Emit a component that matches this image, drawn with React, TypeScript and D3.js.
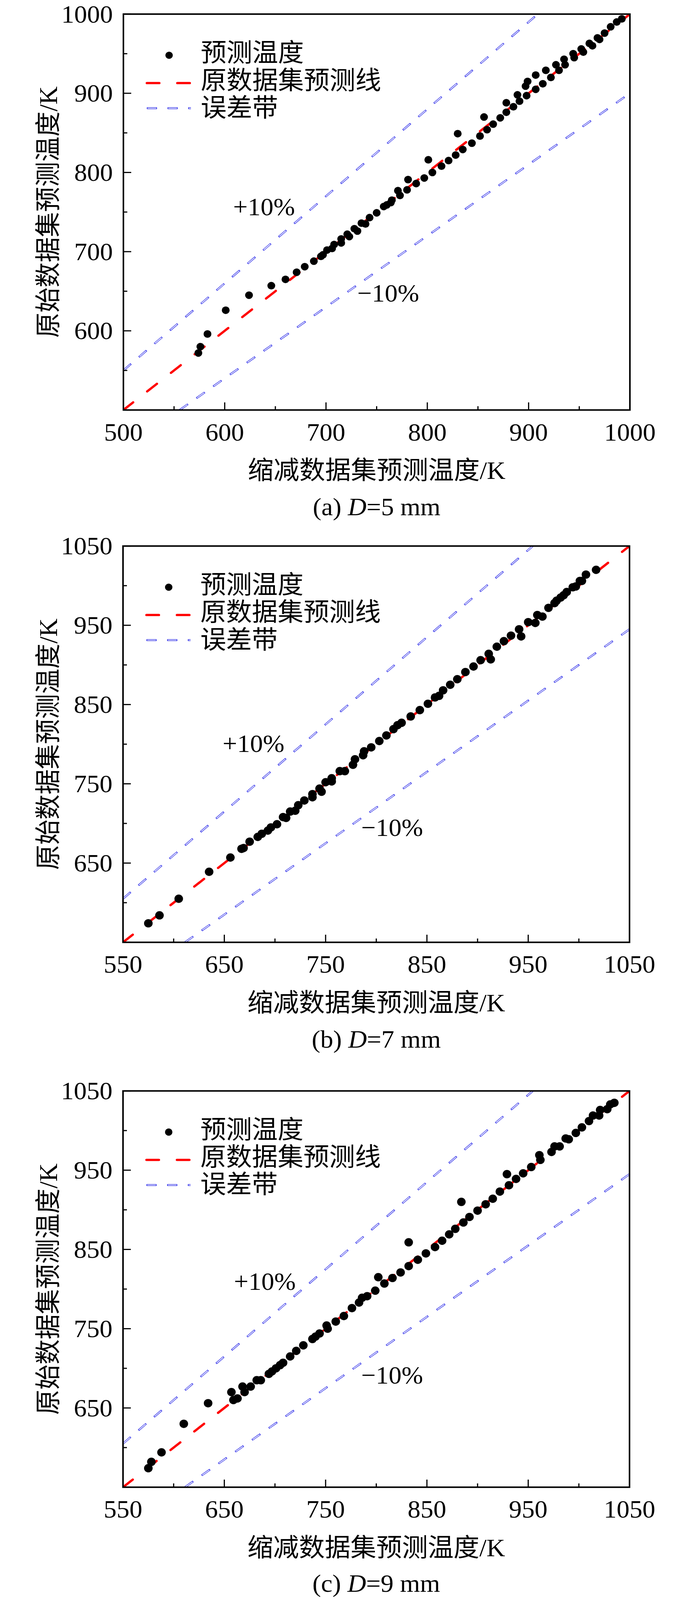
import React from "react";
import * as d3 from "d3";

type Pt = [number, number];

// ---- data (reduced-dataset prediction x, original-dataset prediction y) ----
const pointsA: Pt[] = [
  [574, 572], [576, 580], [583, 596], [601, 626], [624, 645], [646, 657], [660, 665], [671, 674],
  [679, 681], [688, 688], [695, 694], [697, 696], [701, 702], [706, 704], [708, 709], [715, 711],
  [715, 716], [723, 719], [721, 722], [728, 729], [731, 726], [735, 736], [739, 735], [743, 743],
  [750, 749], [757, 757], [760, 759], [765, 765], [764, 762], [771, 777], [773, 771], [780, 778],
  [781, 791], [789, 786], [797, 793], [801, 816], [805, 800], [814, 808], [821, 815], [828, 822],
  [830, 849], [835, 829], [844, 837], [852, 846], [859, 854], [856, 870], [865, 861], [872, 869],
  [878, 876], [878, 888], [885, 883], [891, 890], [889, 898], [898, 897], [897, 909], [899, 915],
  [907, 905], [907, 923], [914, 912], [917, 929], [922, 920], [927, 936], [930, 929], [935, 943],
  [936, 936], [944, 950], [945, 945], [952, 956], [954, 952], [960, 963], [963, 960], [968, 970],
  [970, 968], [975, 976], [981, 984], [987, 990], [992, 994],
];

const pointsB: Pt[] = [
  [575, 574], [586, 584], [605, 605], [635, 639], [656, 657], [667, 668], [669, 669], [675, 677],
  [683, 683], [687, 687], [693, 691], [696, 695], [702, 699], [708, 708], [711, 707], [715, 715],
  [720, 716], [723, 723], [729, 729], [737, 733], [737, 737], [744, 744], [746, 740], [750, 752],
  [756, 757], [756, 753], [764, 766], [769, 766], [777, 774], [779, 781], [787, 786], [788, 791],
  [795, 796], [803, 804], [810, 811], [817, 819], [821, 824], [825, 827], [834, 835], [843, 843],
  [851, 851], [858, 859], [862, 861], [866, 868], [873, 875], [880, 882], [888, 891], [896, 898],
  [903, 906], [911, 914], [913, 907], [919, 923], [926, 930], [933, 937], [941, 945], [943, 936],
  [950, 954], [957, 953], [959, 963], [964, 961], [970, 972], [976, 978], [978, 981], [982, 985],
  [985, 988], [988, 992], [994, 998], [997, 999], [1001, 1006], [1003, 1006], [1007, 1014], [1017, 1020],
];

const pointsC: Pt[] = [
  [575, 574], [578, 582], [588, 594], [610, 630], [634, 656], [657, 670], [659, 660], [663, 662],
  [668, 677], [670, 670], [676, 677], [682, 685], [686, 685], [694, 693], [697, 696], [701, 700],
  [705, 704], [708, 707], [715, 715], [721, 722], [728, 729], [737, 737], [740, 740], [744, 744],
  [751, 754], [752, 750], [760, 759], [768, 766], [776, 776], [783, 783], [786, 789], [791, 791],
  [799, 798], [802, 815], [808, 807], [816, 814], [824, 821], [832, 829], [832, 859], [841, 837],
  [849, 845], [858, 853], [865, 861], [872, 869], [878, 876], [884, 910], [886, 884], [892, 891],
  [900, 899], [908, 907], [915, 914], [922, 923], [929, 945], [931, 931], [938, 939], [945, 946],
  [953, 954], [961, 969], [962, 963], [973, 973], [976, 980], [981, 980], [987, 990], [990, 989],
  [997, 997], [1003, 1004], [1010, 1012], [1014, 1019], [1020, 1019], [1021, 1026], [1028, 1027],
  [1031, 1033], [1035, 1035],
];

const domainA: [number, number] = [500, 1000];
const domainBC: [number, number] = [550, 1050];
const majorTicksA = [500, 600, 700, 800, 900, 1000];
const minorTicksA = [550, 650, 750, 850, 950];
const majorTicksBC = [550, 650, 750, 850, 950, 1050];
const minorTicksBC = [600, 700, 800, 900, 1000];

const legendLabels = ["预测温度", "原数据集预测线", "误差带"];
const bandLabels = ["+10%", "\u221210%"];
const bandFactors = [1.1, 0.9];
const xTitle = "缩减数据集预测温度/K";
const yTitle = "原始数据集预测温度/K";
const captionLetters = ["(a)", "(b)", "(c)"];
const captionDiameters = ["5", "7", "9"];

const FONT = "'Liberation Serif', 'Noto Sans CJK SC', serif";
const FS = 66;
const DY = 3;

type PanelProps = {
  id: string;
  pts: Pt[];
  domain: [number, number];
  majors: number[];
  minors: number[];
  L: number; R: number; T: number; B: number;
  r: number;
  letter: string;
  dia: string;
  plus: [number, number];
  minus: [number, number];
  capOff: number;
};

function Panel(p: PanelProps) {
  const x = d3.scaleLinear().domain(p.domain).range([p.L, p.R]);
  const y = d3.scaleLinear().domain(p.domain).range([p.B, p.T]);
  const [lo, hi] = p.domain;
  const line = d3.line<Pt>().x((d) => x(d[0])).y((d) => y(d[1]));
  const redPath = line([[lo, lo], [hi, hi]]) || "";
  const upperPath = line([[lo, lo * bandFactors[0]], [hi / bandFactors[0], hi]]) || "";
  const lowerPath = line([[lo / bandFactors[1], lo], [hi, hi * bandFactors[1]]]) || "";
  const clipId = "clip-" + p.id;
  const cx = (p.L + p.R) / 2;
  const cy = (p.T + p.B) / 2;

  const hollow = (d: string, key: string) => (
    <g key={key}>
      <path d={d} stroke="#1a1ae6" strokeWidth={4.6} strokeDasharray="26 27" fill="none" />
      <path d={d} stroke="#ffffff" strokeWidth={2.2} strokeDasharray="23 30" strokeDashoffset={-1.5} fill="none" />
    </g>
  );

  const legX = p.L + 60;
  const legX2 = p.L + 173;
  const legDotX = p.L + 117;
  const legTextX = p.L + 198;

  return (
    <g>
      <defs>
        <clipPath id={clipId}>
          <rect x={p.L} y={p.T} width={p.R - p.L} height={p.B - p.T} />
        </clipPath>
      </defs>
      <g clipPath={`url(#${clipId})`}>
        {hollow(upperPath, "u")}
        {hollow(lowerPath, "l")}
        <path d={redPath} stroke="#ff0000" strokeWidth={6} strokeDasharray="32 46" strokeLinecap="round" fill="none" />
        {p.pts.map((d, i) => (
          <circle key={i} cx={x(d[0])} cy={y(d[1])} r={p.r} fill="#000" />
        ))}
      </g>

      {/* ticks (inward) */}
      {p.majors.map((t) => (
        <g key={"M" + t}>
          <line x1={x(t)} x2={x(t)} y1={p.B} y2={p.B - 20} stroke="#000" strokeWidth={3} />
          <line x1={p.L} x2={p.L + 20} y1={y(t)} y2={y(t)} stroke="#000" strokeWidth={3} />
        </g>
      ))}
      {p.minors.map((t) => (
        <g key={"m" + t}>
          <line x1={x(t)} x2={x(t)} y1={p.B} y2={p.B - 10} stroke="#000" strokeWidth={3} />
          <line x1={p.L} x2={p.L + 10} y1={y(t)} y2={y(t)} stroke="#000" strokeWidth={3} />
        </g>
      ))}
      <rect x={p.L} y={p.T} width={p.R - p.L} height={p.B - p.T} fill="none" stroke="#000" strokeWidth={4} />

      {/* tick labels */}
      {p.majors.map((t) => (
        <text key={"xl" + t} x={x(t)} y={p.B + 80} textAnchor="middle" fontSize={FS} fontFamily={FONT}>
          {t}
        </text>
      ))}
      {p.majors.filter((t) => t !== lo).map((t) => (
        <text key={"yl" + t} x={p.L - 27} y={y(t) + 22} textAnchor="end" fontSize={FS} fontFamily={FONT}>
          {t}
        </text>
      ))}

      {/* axis titles */}
      <text x={cx} y={p.B + 159} textAnchor="middle" dominantBaseline="central" fontSize={FS} fontFamily={FONT}>
        {xTitle}
      </text>
      <text
        transform={`translate(124,${cy}) rotate(-90)`}
        textAnchor="middle"
        dominantBaseline="central"
        fontSize={FS}
        fontFamily={FONT}
      >
        {yTitle}
      </text>

      {/* caption */}
      <text x={cx} y={p.B + p.capOff} textAnchor="middle" fontSize={FS} fontFamily={FONT}>
        {p.letter + " "}
        <tspan fontStyle="italic">D</tspan>
        {"=" + p.dia + " mm"}
      </text>

      {/* band annotations */}
      <text x={p.plus[0]} y={p.plus[1]} dominantBaseline="central" fontSize={FS} fontFamily={FONT}>
        {bandLabels[0]}
      </text>
      <text x={p.minus[0]} y={p.minus[1]} dominantBaseline="central" fontSize={FS} fontFamily={FONT}>
        {bandLabels[1]}
      </text>

      {/* legend */}
      <circle cx={legDotX} cy={p.T + 108} r={9.5} fill="#000" />
      <text x={legTextX} y={p.T + 102} dominantBaseline="central" fontSize={FS} fontFamily={FONT}>
        {legendLabels[0]}
      </text>
      <line x1={legX} x2={legX2} y1={p.T + 181} y2={p.T + 181} stroke="#ff0000" strokeWidth={6} strokeDasharray="32 46" strokeLinecap="round" />
      <text x={legTextX} y={p.T + 174} dominantBaseline="central" fontSize={FS} fontFamily={FONT}>
        {legendLabels[1]}
      </text>
      {hollow(`M${legX},${p.T + 247}H${legX2}`, "leg")}
      <text x={legTextX} y={p.T + 246} dominantBaseline="central" fontSize={FS} fontFamily={FONT}>
        {legendLabels[2]}
      </text>
    </g>
  );
}

export default function App() {
  return (
    <svg
      viewBox="0 0 1772 4199"
      preserveAspectRatio="none"
      style={{ position: "fixed", left: 0, top: 0, width: "100vw", height: "100vh", background: "#fff", display: "block" }}
    >
      <rect x={0} y={0} width={1772} height={4199} fill="#fff" />
      <Panel
        id="a" pts={pointsA} domain={domainA} majors={majorTicksA} minors={minorTicksA}
        L={316} R={1613} T={34 + DY} B={1073 + DY} r={10}
        letter={captionLetters[0]} dia={captionDiameters[0]}
        plus={[597, 540 + DY]} minus={[915, 766 + DY]} capOff={276}
      />
      <Panel
        id="b" pts={pointsB} domain={domainBC} majors={majorTicksBC} minors={minorTicksBC}
        L={315} R={1612} T={1430 + DY} B={2470 + DY} r={11}
        letter={captionLetters[1]} dia={captionDiameters[1]}
        plus={[570, 1948 + DY]} minus={[925, 2169 + DY]} capOff={276}
      />
      <Panel
        id="c" pts={pointsC} domain={domainBC} majors={majorTicksBC} minors={minorTicksBC}
        L={315} R={1612} T={2860 + DY} B={3900 + DY} r={11}
        letter={captionLetters[2]} dia={captionDiameters[2]}
        plus={[599, 3360 + DY]} minus={[925, 3606 + DY]} capOff={274}
      />
    </svg>
  );
}
